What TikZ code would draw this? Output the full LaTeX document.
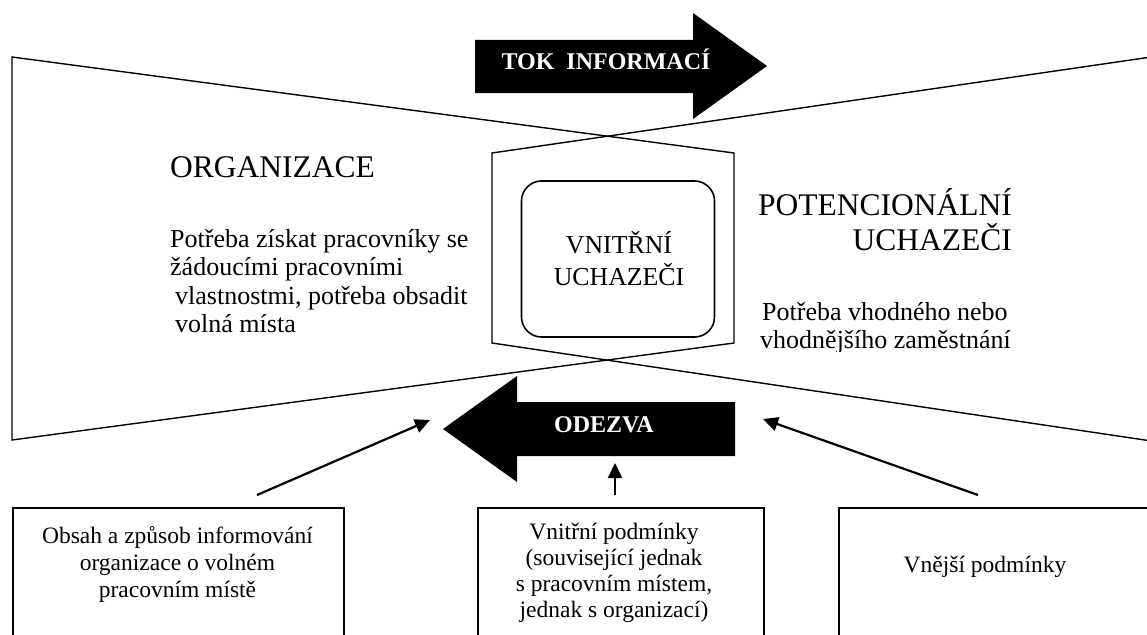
\documentclass[tikz,border=0pt]{standalone}
\usepackage{fontspec}
\setmainfont{Liberation Serif}
\usetikzlibrary{arrows.meta}
\tikzset{
  outline/.style={line width=1.4pt, line join=miter},
  bigarrow/.style={fill=black, draw=none},
  arrowlabel/.style={text=white, font=\fontsize{24}{28}\selectfont\bfseries, inner sep=0pt},
  title/.style={font=\fontsize{31.5}{35}\selectfont, inner sep=0pt},
  body/.style={font=\fontsize{26}{28.5}\selectfont, inner sep=0pt, align=left},
  boxtext/.style={font=\fontsize{23.5}{26.8}\selectfont, inner sep=0pt, align=center},
  condbox/.style={draw, line width=1.6pt, inner sep=0pt, anchor=north west},
  pointer/.style={line width=2.2pt, -{Triangle[length=15pt,width=14pt]}},
}
\begin{document}
\begin{tikzpicture}[x=1pt,y=-1pt]
\useasboundingbox (0,0) rectangle (1147,634);
\clip (0,0) rectangle (1147,634);

% corner points of the two crossing outlines
\coordinate (lt) at (12,57);
\coordinate (lb) at (12,440);
\coordinate (rt) at (1165,55);
\coordinate (rb) at (1165,443);
\coordinate (hnw) at (492,153);
\coordinate (hne) at (734,153);
\coordinate (hsw) at (492,343);
\coordinate (hse) at (734,343);

% organisation side and candidate side
\draw[outline] (lb) -- (lt) -- (hne) -- (hse) -- cycle;
\draw[outline] (rt) -- (hnw) -- (hsw) -- (rb);

% internal candidates (multi-line nodes sit on the baseline of their last line)
\node[draw, line width=1.6pt, rounded corners=20pt, minimum width=193pt, minimum height=156pt,
      inner sep=0pt] (inner) at (618,259) {};
\node[font=\fontsize{25.8}{31.7}\selectfont, inner sep=0pt, align=center, anchor=base]
      (innertxt) at (619,285) {VNITŘNÍ\\UCHAZEČI};

% information flow arrow
\path[bigarrow] (475,40) -- (693,40) -- (693,13) -- (767,66) -- (693,119) -- (693,93) -- (475,93) -- cycle;
\node[arrowlabel, anchor=base] (tok) at (606,69) {TOK\ \ INFORMACÍ};

% response arrow
\path[bigarrow] (443,429) -- (517,376) -- (517,402) -- (735,402) -- (735,456) -- (517,456) -- (517,482) -- cycle;
\node[arrowlabel, anchor=base] (odezva) at (604,432) {ODEZVA};

% organisation texts
\node[title, anchor=base west] (org) at (170,177) {ORGANIZACE};
\node[body, anchor=base west] (orgneed) at (170,332.5)
  {Potřeba získat pracovníky se\\žádoucími pracovními\\\hspace*{5pt}vlastnostmi, potřeba obsadit\\\hspace*{5pt}volná místa};

% candidate texts
\node[title, anchor=base east, align=right] (pot) at (1012,250) {POTENCIONÁLNÍ\\UCHAZEČI};
\begin{scope}
  \clip (740,290) rectangle (1140,351);
  \node[body, anchor=base west] (potneed) at (760,348.5)
    {\hspace*{2pt}Potřeba vhodného nebo\\vhodnějšího zaměstnání};
\end{scope}

% condition boxes
\node[condbox, minimum width=331pt, minimum height=160pt] (obsah) at (12,507) {};
\node[condbox, minimum width=286pt, minimum height=160pt] (vnitr) at (477,507) {};
\node[condbox, minimum width=340pt, minimum height=160pt] (vnej) at (838,507) {};

\node[boxtext, anchor=base] (obsahtxt) at (177.5,597)
  {Obsah a způsob informování\\organizace o volném\\pracovním místě};
\node[boxtext, anchor=base, font=\fontsize{23.5}{25.7}\selectfont] (vnitrtxt) at (614,617)
  {Vnitřní podmínky\\(související jednak\\s pracovním místem,\\jednak s organizací)};
\node[boxtext, anchor=base] (vnejtxt) at (985,572) {Vnější podmínky};

% influences on the response
\coordinate (p1s) at (257,495);
\coordinate (p1e) at (430,420);
\coordinate (p2s) at (615,495);
\coordinate (p2e) at (615,463);
\coordinate (p3s) at (978,495);
\coordinate (p3e) at (763,419);
\draw[pointer] (p1s) -- (p1e);
\draw[pointer] (p2s) -- (p2e);
\draw[pointer] (p3s) -- (p3e);
\end{tikzpicture}
\end{document}
